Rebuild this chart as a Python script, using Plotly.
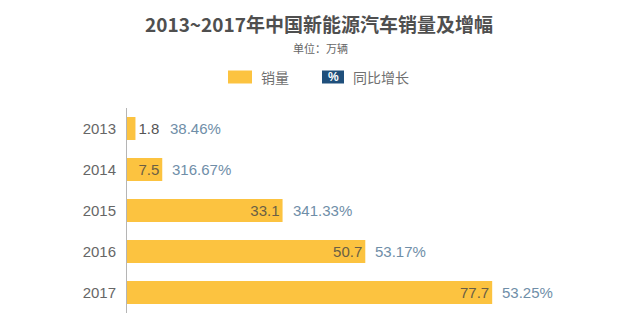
import plotly.graph_objects as go

years = ["2013", "2014", "2015", "2016", "2017"]
sales = [1.8, 7.5, 33.1, 50.7, 77.7]          # 万辆
growth = ["38.46%", "316.67%", "341.33%", "53.17%", "53.25%"]

BAR = "#FCC340"
PCT = "#6f8ea8"
CJK = "Noto Sans CJK SC"
LATIN = "Liberation Sans, Noto Sans CJK SC"

W, H = 640, 333
L, R, T, B = 127, 43, 108, 20

# the smallest bar is too narrow to hold its value, so that one sits outside
text_pos = ["outside" if v < 5 else "inside" for v in sales]
text_col = ["#555555" if v < 5 else "#6a5f45" for v in sales]

fig = go.Figure()
fig.add_trace(go.Bar(
    x=sales, y=years, orientation="h",
    marker=dict(color=BAR, line=dict(width=0)),
    text=[f"{v:g}" for v in sales],
    textposition=text_pos,
    insidetextanchor="end",
    textangle=0,
    textfont=dict(family=LATIN, size=15, color=text_col),
    outsidetextfont=dict(family=LATIN, size=15, color="#555555"),
    constraintext="none",
    cliponaxis=False,
    hoverinfo="skip",
))

# growth labels to the right of each bar (category index as position,
# since the year strings look numeric)
for i, (v, g, pos) in enumerate(zip(sales, growth, text_pos)):
    fig.add_annotation(
        x=v, y=i, xref="x", yref="y", text=g, showarrow=False,
        xanchor="left", xshift=33 if pos == "outside" else 8,
        font=dict(family=LATIN, size=15, color=PCT),
    )

fig.update_layout(
    width=W, height=H,
    margin=dict(l=L, r=R, t=T, b=B),
    paper_bgcolor="white", plot_bgcolor="white",
    bargap=0.44,
    showlegend=False,
    xaxis=dict(range=[0, 100], visible=False, fixedrange=True),
    yaxis=dict(type="category", range=[4.5, -0.5], automargin=False,
               showline=True, linecolor="#b5b5b5", linewidth=1,
               ticks="", ticklabelstandoff=7, showgrid=False,
               tickfont=dict(family=LATIN, size=15, color="#666666")),
)


# header items placed by pixel position, converted to paper coordinates
def px_x(x):
    return (x - L) / (W - L - R)


def px_y(y):
    return (H - B - y) / (H - T - B)


fig.add_annotation(x=px_x(319), y=px_y(23), xref="paper", yref="paper",
                   yanchor="middle", text="<b>2013~2017年中国新能源汽车销量及增幅</b>",
                   showarrow=False, font=dict(family=CJK, size=19, color="#4f4f4f"))
fig.add_annotation(x=px_x(320), y=px_y(48), xref="paper", yref="paper",
                   yanchor="middle", text="单位：万辆", showarrow=False,
                   font=dict(family=CJK, size=11, color="#666666"))

# legend
LEG_Y = 77
fig.add_shape(type="rect", xref="paper", yref="paper",
              x0=px_x(228), x1=px_x(252), y0=px_y(LEG_Y - 6.5), y1=px_y(LEG_Y + 6.5),
              fillcolor=BAR, line=dict(width=0))
fig.add_annotation(x=px_x(259), y=px_y(LEG_Y), xref="paper", yref="paper",
                   xanchor="left", yanchor="middle", text="销量", showarrow=False,
                   font=dict(family=CJK, size=14, color="#707070"))
fig.add_shape(type="rect", xref="paper", yref="paper",
              x0=px_x(322), x1=px_x(344), y0=px_y(LEG_Y - 6.5), y1=px_y(LEG_Y + 6.5),
              fillcolor="#1f4f7b", line=dict(width=0))
fig.add_annotation(x=px_x(333), y=px_y(LEG_Y), xref="paper", yref="paper",
                   yanchor="middle", text="<b>%</b>", showarrow=False,
                   font=dict(family=LATIN, size=12, color="white"))
fig.add_annotation(x=px_x(351), y=px_y(LEG_Y), xref="paper", yref="paper",
                   xanchor="left", yanchor="middle", text="同比增长", showarrow=False,
                   font=dict(family=CJK, size=14, color="#707070"))

fig.write_html("out.html")
